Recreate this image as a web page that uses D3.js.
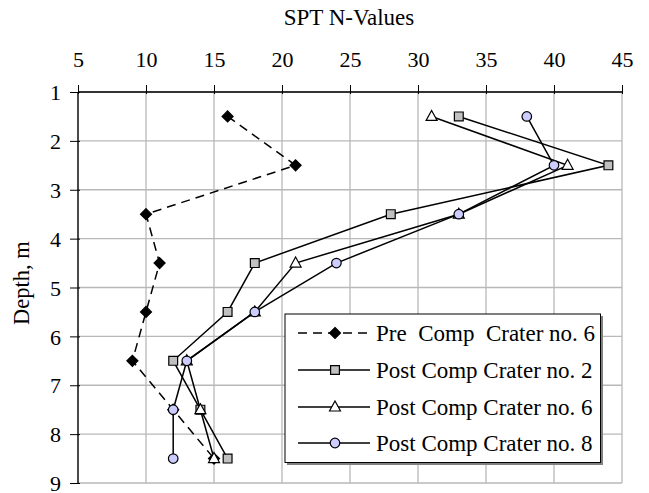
<!DOCTYPE html>
<html>
<head>
<meta charset="utf-8">
<script src="https://cdn.jsdelivr.net/npm/d3@7"></script>
<style>
html,body{margin:0;padding:0;background:#fff;}
svg{display:block;}
text{font-family:"Liberation Serif","Times New Roman",serif;fill:#000;}
</style>
</head>
<body>
<svg id="chart" width="649" height="493"></svg>
<script>
const depths = [1.5, 2.5, 3.5, 4.5, 5.5, 6.5, 7.5, 8.5];
const preCrater6  = [16, 21, 10, 11, 10, 9, 12, 15];
const postCrater2 = [33, 44, 28, 18, 16, 12, 14, 16];
const postCrater6 = [31, 41, 33, 21, 18, 13, 14, 15];
const postCrater8 = [38, 40, 33, 24, 18, 13, 12, 12];
const xTicks = [5, 10, 15, 20, 25, 30, 35, 40, 45];
const yTicks = [1, 2, 3, 4, 5, 6, 7, 8, 9];
const seriesNames = ["Pre  Comp  Crater no. 6", "Post Comp Crater no. 2", "Post Comp Crater no. 6", "Post Comp Crater no. 8"];

const series = [
  {name: seriesNames[0], values: preCrater6, marker: "diamond", fill: "#000000", dash: "9,6"},
  {name: seriesNames[1], values: postCrater2, marker: "square", fill: "#c0c0c0", dash: null},
  {name: seriesNames[2], values: postCrater6, marker: "triangle", fill: "#ffffff", dash: null},
  {name: seriesNames[3], values: postCrater8, marker: "circle", fill: "#ccccff", dash: null}
];

const svg = d3.select("#chart");
const x = d3.scaleLinear().domain([5, 45]).range([78, 622]);
const y = d3.scaleLinear().domain([1, 9]).range([92, 483]);

// gridlines
const grid = svg.append("g");
grid.selectAll("line.vx").data(xTicks).join("line")
  .attr("x1", d => x(d)).attr("x2", d => x(d))
  .attr("y1", y(1)).attr("y2", y(9))
  .attr("stroke", "#b8b8b8").attr("stroke-width", 1.3);
grid.selectAll("line.hy").data(yTicks).join("line")
  .attr("x1", x(5)).attr("x2", x(45))
  .attr("y1", d => y(d)).attr("y2", d => y(d))
  .attr("stroke", "#b8b8b8").attr("stroke-width", 1.3);

// axes
const xAxis = d3.axisTop(x).tickValues(xTicks).tickSize(7).tickFormat(d3.format("d"));
const gx = svg.append("g").attr("transform", `translate(0,${y(1)})`).call(xAxis);
gx.select(".domain").attr("stroke", "#000").attr("stroke-width", 1.3).attr("d", `M${x(5)},0H${x(45)}`);
gx.selectAll(".tick line").attr("stroke", "#000").attr("stroke-width", 1).attr("y1", 2);
gx.selectAll(".tick text").attr("font-size", 22).attr("font-family", "Liberation Serif").attr("y", -25).attr("dy", 0);

const yAxis = d3.axisLeft(y).tickValues(yTicks).tickSize(8).tickFormat(d3.format("d"));
const gy = svg.append("g").attr("transform", `translate(${x(5)},0)`).call(yAxis);
gy.select(".domain").attr("stroke", "#000").attr("stroke-width", 1.3).attr("d", `M0,${y(1)}V${y(9)}`);
gy.selectAll(".tick line").attr("stroke", "#000").attr("stroke-width", 1).attr("x1", 2);
gy.selectAll(".tick text").attr("font-size", 22).attr("font-family", "Liberation Serif").attr("x", -17).attr("dy", "0.35em");

// titles
svg.append("text").attr("x", 349).attr("y", 25).attr("text-anchor", "middle")
  .attr("font-size", 23).text("SPT N-Values");
svg.append("text").attr("transform", "translate(29,283) rotate(-90)").attr("text-anchor", "middle")
  .attr("font-size", 22.5).text("Depth, m");

function diamond() { return "M0,-5.5L5.5,0L0,5.5L-5.5,0Z"; }
function markerPath(type) {
  if (type === "diamond") return diamond();
  if (type === "square") return d3.symbol().type(d3.symbolSquare).size(78)();
  if (type === "triangle") return "M0,-6L5.5,4L-5.5,4Z";
  return d3.symbol().type(d3.symbolCircle).size(72)();
}

const line = d3.line().x(d => x(d.v)).y(d => y(d.d));
series.forEach(s => {
  const pts = s.values.map((v, i) => ({v, d: depths[i]}));
  const g = svg.append("g");
  g.append("path").datum(pts).attr("d", line).attr("fill", "none")
    .attr("stroke", "#000").attr("stroke-width", 1.5)
    .attr("stroke-dasharray", s.dash);
  g.selectAll("path.m").data(pts).join("path").attr("class", "m")
    .attr("transform", d => `translate(${x(d.v)},${y(d.d)})`)
    .attr("d", markerPath(s.marker))
    .attr("fill", s.fill).attr("stroke", "#000").attr("stroke-width", 1.2);
});

// legend
const lg = svg.append("g");
lg.append("rect").attr("x", 287).attr("y", 316).attr("width", 316).attr("height", 149).attr("fill", "#808080");
lg.append("rect").attr("x", 285).attr("y", 314).attr("width", 315.5).attr("height", 148.5)
  .attr("fill", "#fff").attr("stroke", "#000").attr("stroke-width", 1);
const rowY = [333, 370, 407, 443];
series.forEach((s, i) => {
  const ry = rowY[i];
  lg.append("line").attr("x1", 298).attr("x2", 370).attr("y1", ry).attr("y2", ry)
    .attr("stroke", "#000").attr("stroke-width", 1.5).attr("stroke-dasharray", s.dash);
  lg.append("path").attr("transform", `translate(335,${ry})`)
    .attr("d", markerPath(s.marker))
    .attr("fill", s.fill).attr("stroke", "#000").attr("stroke-width", 1.2);
  lg.append("text").attr("x", 376).attr("y", ry + 7.5).attr("font-size", 23)
    .attr("xml:space", "preserve").style("white-space", "pre").text(s.name);
});
</script>
</body>
</html>
